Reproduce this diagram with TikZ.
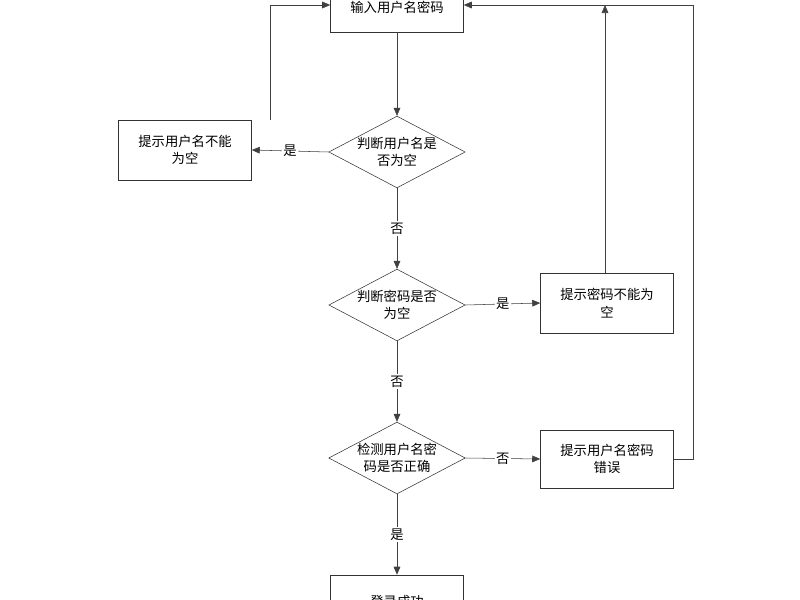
\documentclass[tikz,border=0pt]{standalone}
\usepackage{fontspec}
\setmainfont{Noto Sans CJK SC}
\usetikzlibrary{shapes.geometric,arrows.meta}
\begin{document}
\begin{tikzpicture}[x=0.75pt,y=-0.75pt,
  box/.style={draw=black!80,fill=white,minimum width=133*0.75pt,minimum height=58*0.75pt,align=center,text width=90pt,font=\fontsize{10}{13}\selectfont},
  dia/.style={draw=black!80,fill=white,diamond,aspect=1.9,minimum width=133*0.75pt,minimum height=70*0.75pt,inner sep=0pt,align=center,font=\fontsize{10}{13}\selectfont},
  arr/.style={draw=black!75,-{Triangle[length=6pt,width=5pt]}},
  lab/.style={fill=white,inner sep=1pt,font=\fontsize{10}{12}\selectfont}]
\useasboundingbox (0,0) rectangle (800,600);
\clip (0,0) rectangle (800,600);
\fill[white] (0,0) rectangle (800,600);
\node[box,minimum height=50*0.75pt] (in) at (397,7) {输入用户名密码};
\node[dia] (d1) at (397,152) {判断用户名是\\否为空};
\node[box,minimum height=60*0.75pt] (b1) at (185,150) {提示用户名不能\\为空};
\node[dia] (d2) at (397,305) {判断密码是否\\为空};
\node[box,minimum height=60*0.75pt] (b2) at (607,303) {提示密码不能为\\空};
\node[dia] (d3) at (397,458) {检测用户名密\\码是否正确};
\node[box,minimum height=58*0.75pt] (b3) at (607,459) {提示用户名密码\\错误};
\node[box,minimum height=52*0.75pt] (ok) at (397,601) {登录成功};
\coordinate (c1) at (270,5);
\coordinate (c2) at (605,5);
\coordinate (c3) at (693,459);
\coordinate (c4) at (693,5);
\draw[arr] (in) -- (d1);
\draw[arr] (d1.west) -- node[lab]{是} (b1.east);
\draw[arr] (b1.north -| c1) -- (c1) -- (in.west |- c1);
\draw[arr] (d1) -- node[lab]{否} (d2);
\draw[arr] (d2.east) -- node[lab]{是} (b2.west);
\draw[arr] (b2.north -| c2) -- (c2);
\draw[arr] (d2) -- node[lab]{否} (d3);
\draw[arr] (d3.east) -- node[lab]{否} (b3.west);
\draw[arr] (b3.east) -- (c3) -- (c4) -- (in.east |- c4);
\draw[arr] (d3) -- node[lab]{是} (ok);
\end{tikzpicture}
\end{document}
